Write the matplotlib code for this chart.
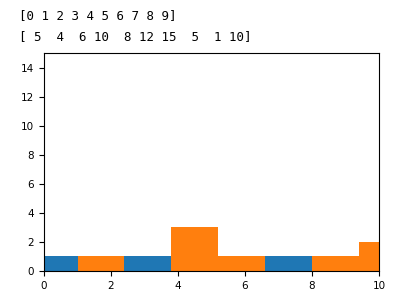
import numpy as np
import matplotlib
matplotlib.use('Agg')
import matplotlib.pyplot as plt

x = np.array([0, 1, 2, 3, 4, 5, 6, 7, 8, 9])
y = np.array([5, 4, 6, 10, 8, 12, 15, 5, 1, 10])

plt.rcParams['font.size'] = 7.5
fig = plt.figure(figsize=(3.93, 3.08), dpi=100)

# printed output above the chart
fig.text(0.048, 0.972, str(x), family='DejaVu Sans Mono', fontsize=9, va='top')
fig.text(0.048, 0.903, str(y), family='DejaVu Sans Mono', fontsize=9, va='top')

ax = fig.add_axes([44/393, 1 - 271/308, 335/393, 218/308])
ax.hist(x, bins=10)
ax.hist(y, bins=10)
ax.set_xlim(0, 10)
ax.set_ylim(0, 15)

fig.savefig('out.png', dpi=100)
